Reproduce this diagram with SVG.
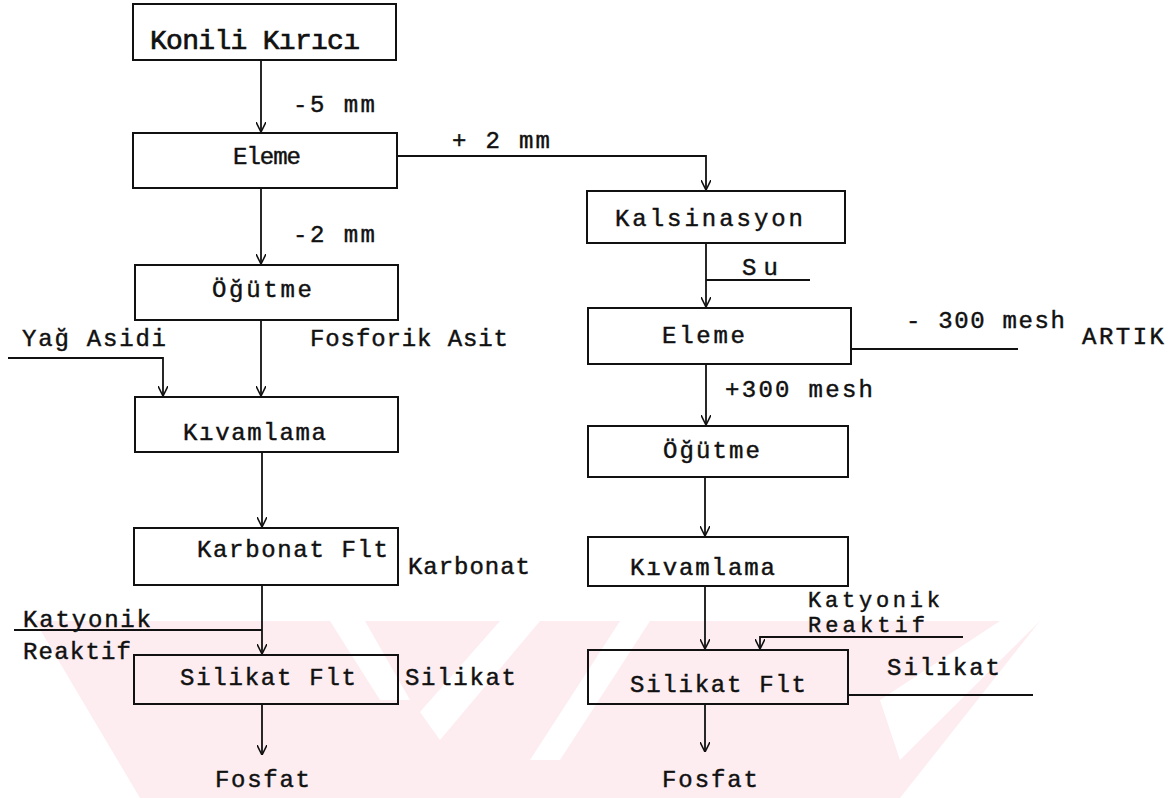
<svg xmlns="http://www.w3.org/2000/svg" width="1172" height="798" viewBox="0 0 1172 798">
<defs>
<marker id="arr" viewBox="0 0 10 10" refX="10" refY="5" markerWidth="10" markerHeight="10" markerUnits="userSpaceOnUse" orient="auto">
<path d="M0,0 L10,5 L0,10" fill="none" stroke="#111" stroke-width="1.6"/>
</marker>
<style>
.box{fill:none;stroke:#111;stroke-width:2}
.ln{fill:none;stroke:#111;stroke-width:1.8}
.ar{marker-end:url(#arr)}
text{font-family:"Liberation Mono","DejaVu Sans Mono",monospace;font-size:24px;fill:#111;stroke:#111;stroke-width:0.45px}
.big{font-size:28px;stroke-width:0.7px}
.sm{font-size:22px}
.wm{fill:#fdedf0;stroke:none}
</style>
</defs>
<rect width="1172" height="798" fill="#fff"/>
<g id="watermark">
<polygon class="wm" points="35,621 1040,621 900,798 140,798"/>
<polygon fill="#fff" points="330,621 365,621 410,700 380,700"/>
<polygon fill="#fff" points="420,712 500,621 540,621 440,740"/>
<polygon fill="#fff" points="620,621 650,621 560,760 530,760"/>
<polygon fill="#fff" points="880,700 1000,621 1040,621 900,760"/>
</g>
<g id="connectors">
<path class="ln ar" d="M261,60 V132"/>
<path class="ln ar" d="M397,156 H706 V190"/>
<path class="ln ar" d="M261,188 V264"/>
<path class="ln ar" d="M261,320 V396"/>
<path class="ln ar" d="M8,358 H163 V396"/>
<path class="ln ar" d="M262,452 V527"/>
<path class="ln ar" d="M262,585 V654"/>
<path class="ln" d="M14,630 H262"/>
<path class="ln ar" d="M262,704 V755"/>
<path class="ln ar" d="M706,243 V307"/>
<path class="ln" d="M810,280 H706"/>
<path class="ln" d="M851,349 H1018"/>
<path class="ln ar" d="M706,364 V425"/>
<path class="ln ar" d="M705,477 V536"/>
<path class="ln ar" d="M705,586 V649"/>
<path class="ln ar" d="M963,637 H760 V649"/>
<path class="ln" d="M848,695 H1033"/>
<path class="ln ar" d="M705,704 V752"/>
</g>
<g id="n-konili"><rect class="box" x="133" y="4" width="263" height="56"/><text class="big" x="150" y="49" textLength="210" lengthAdjust="spacing">Konili Kırıcı</text></g>
<g id="n-eleme1"><rect class="box" x="133" y="133" width="264" height="55"/><text x="233" y="164" textLength="68" lengthAdjust="spacing">Eleme</text></g>
<g id="n-ogutme1"><rect class="box" x="135" y="265" width="263" height="55"/><text x="212" y="297" textLength="100" lengthAdjust="spacing">Öğütme</text></g>
<g id="n-kivam1"><rect class="box" x="135" y="397" width="263" height="55"/><text x="183" y="440" textLength="143" lengthAdjust="spacing">Kıvamlama</text></g>
<g id="n-karb"><rect class="box" x="134" y="528" width="264" height="57"/><text x="197" y="557" textLength="191" lengthAdjust="spacing">Karbonat Flt</text></g>
<g id="n-silflt1"><rect class="box" x="134" y="655" width="264" height="49"/><text x="180" y="685" textLength="176" lengthAdjust="spacing">Silikat Flt</text></g>
<g id="n-kals"><rect class="box" x="587" y="191" width="258" height="52"/><text x="615" y="226" textLength="188" lengthAdjust="spacing">Kalsinasyon</text></g>
<g id="n-eleme2"><rect class="box" x="588" y="308" width="263" height="56"/><text x="662" y="343" textLength="83" lengthAdjust="spacing">Eleme</text></g>
<g id="n-ogutme2"><rect class="box" x="588" y="426" width="260" height="51"/><text x="663" y="458" textLength="97" lengthAdjust="spacing">Öğütme</text></g>
<g id="n-kivam2"><rect class="box" x="588" y="537" width="260" height="49"/><text x="630" y="575" textLength="145" lengthAdjust="spacing">Kıvamlama</text></g>
<g id="n-silflt2"><rect class="box" x="588" y="650" width="260" height="54"/><text x="630" y="692" textLength="176" lengthAdjust="spacing">Silikat Flt</text></g>
<g id="labels">
<text x="293" y="112" textLength="82" lengthAdjust="spacing">-5 mm</text>
<text x="452" y="148" textLength="98" lengthAdjust="spacing">+ 2 mm</text>
<text x="293" y="242" textLength="82" lengthAdjust="spacing">-2 mm</text>
<text x="742" y="275" textLength="36" lengthAdjust="spacing">Su</text>
<text x="22" y="346" textLength="144" lengthAdjust="spacing">Yağ Asidi</text>
<text x="310" y="346" textLength="198" lengthAdjust="spacing">Fosforik Asit</text>
<text x="906" y="328" textLength="159" lengthAdjust="spacing">- 300 mesh</text>
<text x="1082" y="344" textLength="82" lengthAdjust="spacing">ARTIK</text>
<text x="725" y="397" textLength="148" lengthAdjust="spacing">+300 mesh</text>
<text x="408" y="574" textLength="122" lengthAdjust="spacing">Karbonat</text>
<text x="23" y="627" textLength="128" lengthAdjust="spacing">Katyonik</text>
<text x="23" y="659" textLength="108" lengthAdjust="spacing">Reaktif</text>
<text class="sm" x="808" y="607" textLength="132" lengthAdjust="spacing">Katyonik</text>
<text class="sm" x="808" y="632" textLength="117" lengthAdjust="spacing">Reaktif</text>
<text x="405" y="685" textLength="111" lengthAdjust="spacing">Silikat</text>
<text x="887" y="675" textLength="113" lengthAdjust="spacing">Silikat</text>
<text x="215" y="787" textLength="95" lengthAdjust="spacing">Fosfat</text>
<text x="662" y="787" textLength="96" lengthAdjust="spacing">Fosfat</text>
</g>
</svg>
